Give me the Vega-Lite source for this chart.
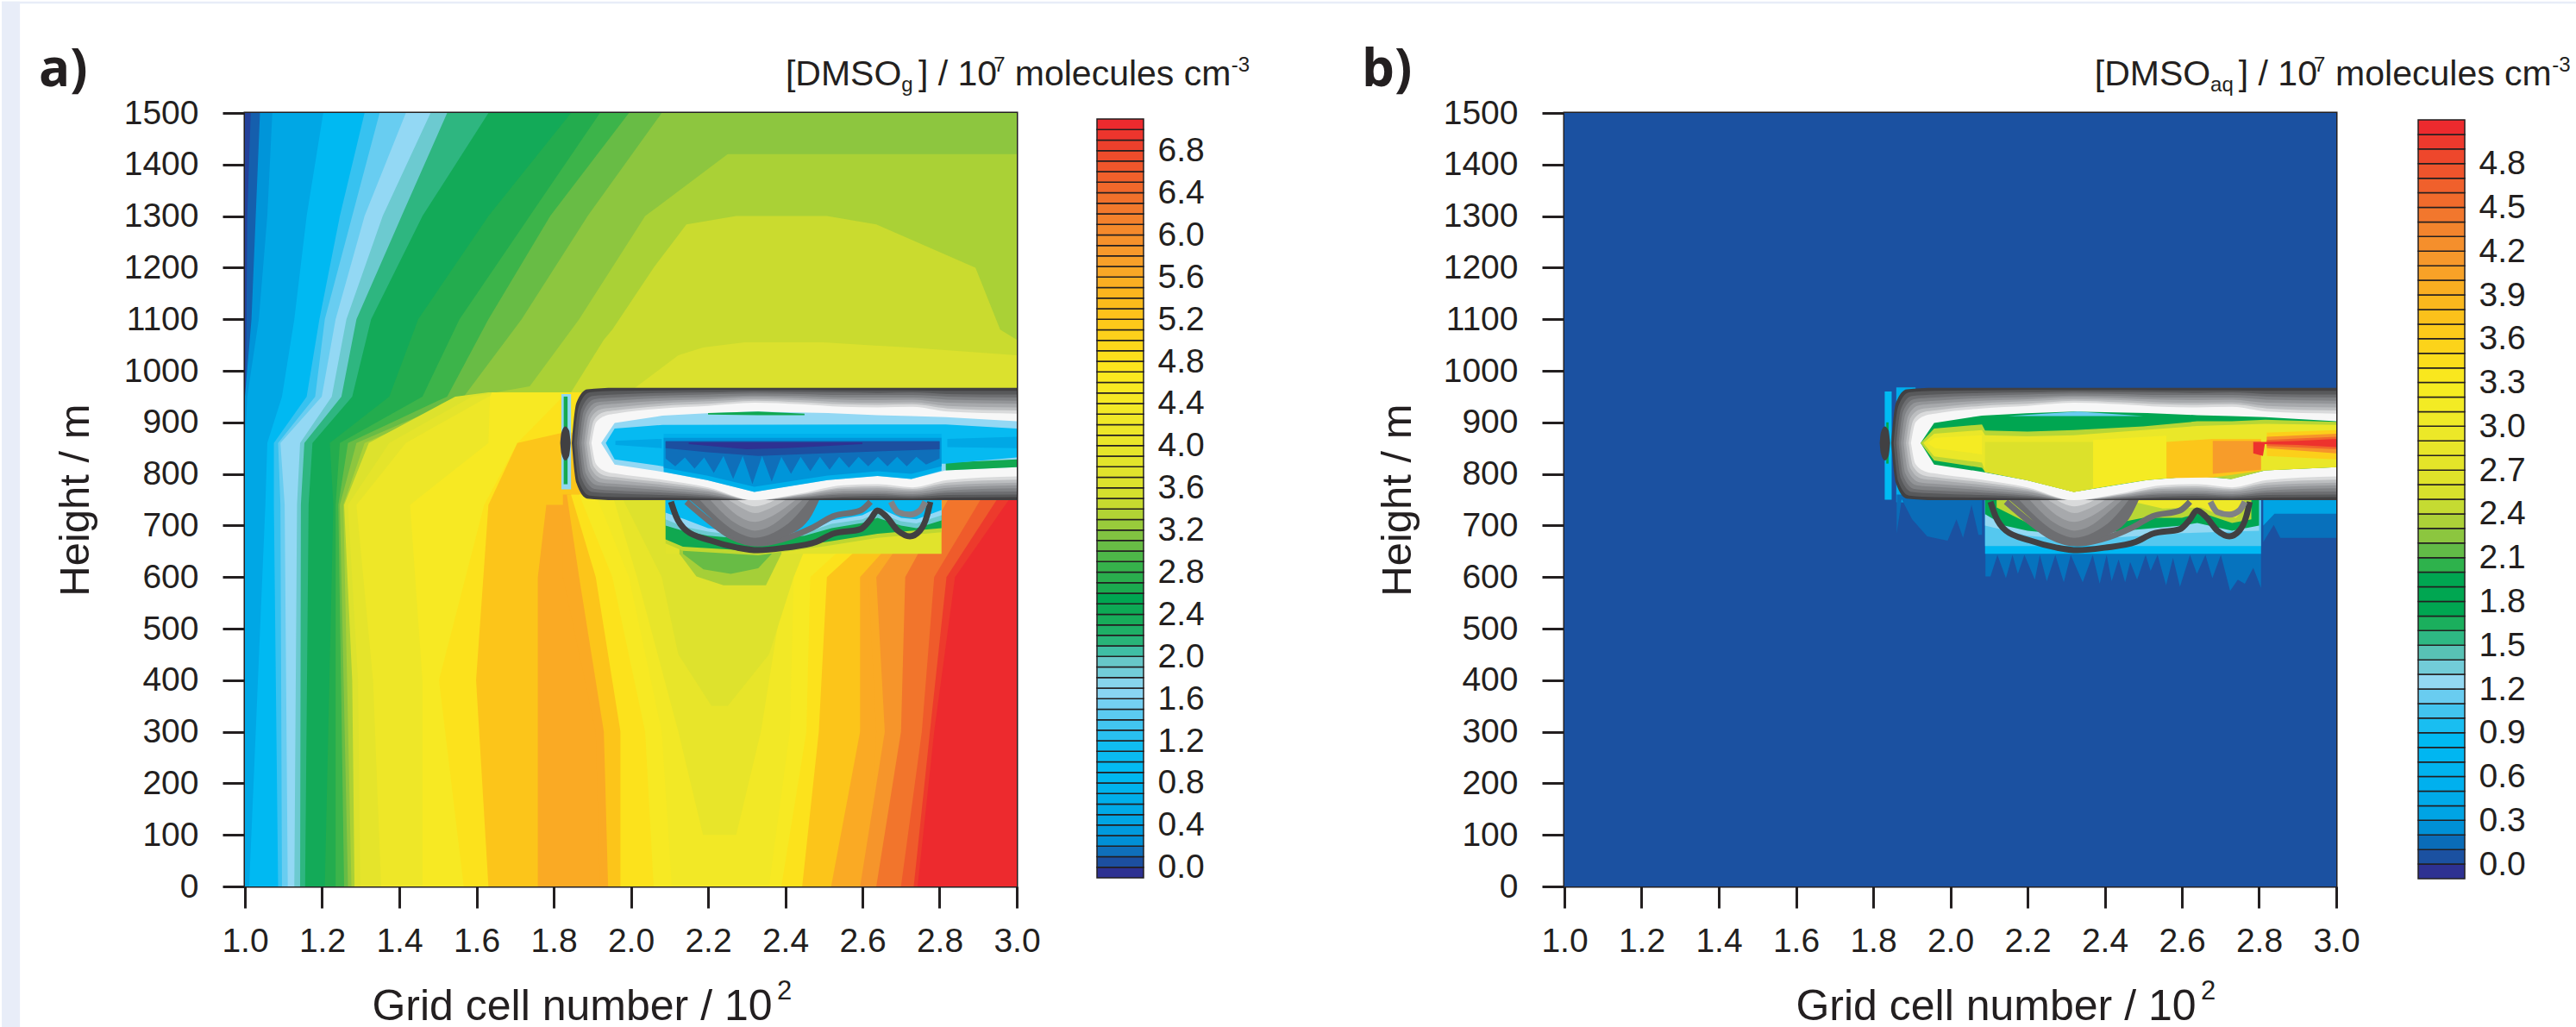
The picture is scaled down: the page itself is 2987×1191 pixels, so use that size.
{"$schema":"https://vega.github.io/schema/vega-lite/v6.json","padding":0,"background":"#ffffff","bounds":"flush","spacing":93,
"resolve":{"scale":{"color":"independent"}},
"config":{"font":"Liberation Sans","view":{"stroke":null},"axis":{"grid":false,"labelFont":"Liberation Sans","titleFont":"Liberation Sans","labelColor":"#231f20","titleColor":"#231f20","tickColor":"#231f20","domainColor":"#231f20","labelOverlap":false,"labelFlush":false}},
"datasets":{
"page":[{"x":0.37,"x2":0.417,"y":-276,"y2":1716},{"x":0.37,"x2":7.04,"y":1712,"y2":1716}],
"minor":[{"x":1.05},{"x":1.1},{"x":1.15},{"x":1.25},{"x":1.3},{"x":1.35},{"x":1.45},{"x":1.5},{"x":1.55},{"x":1.65},{"x":1.7},{"x":1.75},{"x":1.85},{"x":1.9},{"x":1.95},{"x":2.05},{"x":2.1},{"x":2.15},{"x":2.25},{"x":2.3},{"x":2.35},{"x":2.45},{"x":2.5},{"x":2.55},{"x":2.65},{"x":2.7},{"x":2.75},{"x":2.85},{"x":2.9},{"x":2.95}],
"lines":[
{"l":0,"x":2.104,"y":746},{"l":0,"x":2.117,"y":718},{"l":0,"x":2.144,"y":690},{"l":0,"x":2.206,"y":671},{"l":0,"x":2.276,"y":657},{"l":0,"x":2.329,"y":652},{"l":0,"x":2.4,"y":657},{"l":0,"x":2.48,"y":668},{"l":0,"x":2.524,"y":684},{"l":0,"x":2.595,"y":693},{"l":0,"x":2.621,"y":712},{"l":0,"x":2.639,"y":729},{"l":0,"x":2.661,"y":718},{"l":0,"x":2.692,"y":690},{"l":0,"x":2.723,"y":679},{"l":0,"x":2.749,"y":690},{"l":0,"x":2.767,"y":718},{"l":0,"x":2.776,"y":746},
{"l":1,"x":2.144,"y":746},{"l":1,"x":2.206,"y":707},{"l":1,"x":2.259,"y":679},{"l":1,"x":2.329,"y":665},{"l":1,"x":2.391,"y":673},{"l":1,"x":2.471,"y":696},{"l":1,"x":2.524,"y":718},{"l":1,"x":2.595,"y":729},{"l":1,"x":2.621,"y":746},
{"l":2,"x":2.674,"y":746},{"l":2,"x":2.692,"y":726},{"l":2,"x":2.723,"y":721},{"l":2,"x":2.749,"y":729},{"l":2,"x":2.763,"y":746}],
"bulge":[
{"k":0,"x":1.817,"y":860,"y2":860},{"k":0,"x":1.82,"y":880,"y2":840},{"k":0,"x":1.83,"y":892,"y2":826},{"k":0,"x":1.84,"y":884,"y2":835},{"k":0,"x":1.844,"y":860,"y2":860},
{"k":2,"x":2.153,"y":752,"y2":749},{"k":2,"x":2.206,"y":752,"y2":715},{"k":2,"x":2.259,"y":752,"y2":679},{"k":2,"x":2.321,"y":752,"y2":662},{"k":2,"x":2.391,"y":752,"y2":676},{"k":2,"x":2.462,"y":752,"y2":712},{"k":2,"x":2.488,"y":752,"y2":749},
{"k":3,"x":2.179,"y":752,"y2":749},{"k":3,"x":2.24,"y":752,"y2":705},{"k":3,"x":2.28,"y":752,"y2":685},{"k":3,"x":2.321,"y":752,"y2":676},{"k":3,"x":2.37,"y":752,"y2":686},{"k":3,"x":2.42,"y":752,"y2":712},{"k":3,"x":2.462,"y":752,"y2":749},
{"k":4,"x":2.206,"y":752,"y2":749},{"k":4,"x":2.26,"y":752,"y2":710},{"k":4,"x":2.29,"y":752,"y2":697},{"k":4,"x":2.321,"y":752,"y2":690},{"k":4,"x":2.36,"y":752,"y2":698},{"k":4,"x":2.4,"y":752,"y2":720},{"k":4,"x":2.444,"y":752,"y2":749},
{"k":5,"x":2.232,"y":752,"y2":749},{"k":5,"x":2.275,"y":752,"y2":720},{"k":5,"x":2.321,"y":752,"y2":707},{"k":5,"x":2.37,"y":752,"y2":720},{"k":5,"x":2.426,"y":752,"y2":749},
{"k":6,"x":2.254,"y":752,"y2":749},{"k":6,"x":2.29,"y":752,"y2":733},{"k":6,"x":2.321,"y":752,"y2":724},{"k":6,"x":2.36,"y":752,"y2":733},{"k":6,"x":2.4,"y":752,"y2":749},
{"k":7,"x":2.276,"y":752,"y2":749},{"k":7,"x":2.321,"y":752,"y2":737},{"k":7,"x":2.373,"y":752,"y2":749}],
"cloud":[
{"k":0,"x":1.847,"y":860,"y2":860},{"k":0,"x":1.859,"y":938,"y2":782},{"k":0,"x":1.887,"y":964,"y2":752},{"k":0,"x":1.96,"y":967,"y2":749},{"k":0,"x":3,"y":967,"y2":749},
{"k":1,"x":1.853,"y":860,"y2":860},{"k":1,"x":1.865,"y":931,"y2":786},{"k":1,"x":1.893,"y":958,"y2":758},{"k":1,"x":1.96,"y":961,"y2":755},{"k":1,"x":2.08,"y":962,"y2":754},{"k":1,"x":2.2,"y":963,"y2":752},{"k":1,"x":2.32,"y":963,"y2":749},{"k":1,"x":2.44,"y":963,"y2":751},{"k":1,"x":2.55,"y":962,"y2":753},{"k":1,"x":2.64,"y":962,"y2":753},{"k":1,"x":2.73,"y":962,"y2":752},{"k":1,"x":2.82,"y":961,"y2":754},{"k":1,"x":3,"y":961,"y2":755},
{"k":2,"x":1.86,"y":860,"y2":860},{"k":2,"x":1.872,"y":926,"y2":791},{"k":2,"x":1.9,"y":951,"y2":765},{"k":2,"x":1.96,"y":954,"y2":762},{"k":2,"x":2.08,"y":957,"y2":759},{"k":2,"x":2.2,"y":958,"y2":755},{"k":2,"x":2.32,"y":960,"y2":749},{"k":2,"x":2.44,"y":959,"y2":752},{"k":2,"x":2.55,"y":958,"y2":756},{"k":2,"x":2.64,"y":957,"y2":757},{"k":2,"x":2.73,"y":958,"y2":755},{"k":2,"x":2.82,"y":955,"y2":759},{"k":2,"x":3,"y":954,"y2":760},
{"k":3,"x":1.866,"y":860,"y2":860},{"k":3,"x":1.878,"y":922,"y2":796},{"k":3,"x":1.906,"y":945,"y2":771},{"k":3,"x":1.96,"y":948,"y2":768},{"k":3,"x":2.08,"y":952,"y2":764},{"k":3,"x":2.2,"y":954,"y2":758},{"k":3,"x":2.32,"y":956,"y2":749},{"k":3,"x":2.44,"y":955,"y2":754},{"k":3,"x":2.55,"y":953,"y2":760},{"k":3,"x":2.64,"y":953,"y2":761},{"k":3,"x":2.73,"y":953,"y2":758},{"k":3,"x":2.82,"y":950,"y2":764},{"k":3,"x":3,"y":948,"y2":766},
{"k":4,"x":1.872,"y":860,"y2":860},{"k":4,"x":1.884,"y":917,"y2":800},{"k":4,"x":1.912,"y":939,"y2":778},{"k":4,"x":1.96,"y":942,"y2":775},{"k":4,"x":2.08,"y":947,"y2":769},{"k":4,"x":2.2,"y":949,"y2":761},{"k":4,"x":2.32,"y":952,"y2":749},{"k":4,"x":2.44,"y":951,"y2":755},{"k":4,"x":2.55,"y":948,"y2":763},{"k":4,"x":2.64,"y":948,"y2":764},{"k":4,"x":2.73,"y":948,"y2":761},{"k":4,"x":2.82,"y":944,"y2":768},{"k":4,"x":3,"y":942,"y2":772},
{"k":5,"x":1.879,"y":860,"y2":860},{"k":5,"x":1.891,"y":913,"y2":805},{"k":5,"x":1.919,"y":933,"y2":784},{"k":5,"x":1.96,"y":936,"y2":781},{"k":5,"x":2.08,"y":942,"y2":774},{"k":5,"x":2.2,"y":945,"y2":765},{"k":5,"x":2.32,"y":949,"y2":749},{"k":5,"x":2.44,"y":947,"y2":757},{"k":5,"x":2.55,"y":944,"y2":767},{"k":5,"x":2.64,"y":943,"y2":768},{"k":5,"x":2.73,"y":944,"y2":765},{"k":5,"x":2.82,"y":938,"y2":773},{"k":5,"x":3,"y":936,"y2":778},
{"k":6,"x":1.885,"y":860,"y2":860},{"k":6,"x":1.897,"y":909,"y2":810},{"k":6,"x":1.925,"y":926,"y2":791},{"k":6,"x":1.96,"y":929,"y2":788},{"k":6,"x":2.08,"y":937,"y2":779},{"k":6,"x":2.2,"y":941,"y2":768},{"k":6,"x":2.32,"y":945,"y2":749},{"k":6,"x":2.44,"y":943,"y2":759},{"k":6,"x":2.55,"y":939,"y2":771},{"k":6,"x":2.64,"y":938,"y2":772},{"k":6,"x":2.73,"y":939,"y2":768},{"k":6,"x":2.82,"y":932,"y2":778},{"k":6,"x":3,"y":929,"y2":783},
{"k":7,"x":1.892,"y":860,"y2":860},{"k":7,"x":1.904,"y":904,"y2":814},{"k":7,"x":1.932,"y":920,"y2":797},{"k":7,"x":1.96,"y":923,"y2":794},{"k":7,"x":2.08,"y":932,"y2":784},{"k":7,"x":2.2,"y":936,"y2":771},{"k":7,"x":2.32,"y":942,"y2":749},{"k":7,"x":2.44,"y":939,"y2":760},{"k":7,"x":2.55,"y":935,"y2":774},{"k":7,"x":2.64,"y":934,"y2":776},{"k":7,"x":2.73,"y":935,"y2":771},{"k":7,"x":2.82,"y":927,"y2":783},{"k":7,"x":3,"y":923,"y2":789},
{"k":8,"x":1.898,"y":860,"y2":860},{"k":8,"x":1.91,"y":900,"y2":819},{"k":8,"x":1.938,"y":914,"y2":804},{"k":8,"x":1.96,"y":917,"y2":801},{"k":8,"x":2.08,"y":927,"y2":789},{"k":8,"x":2.2,"y":932,"y2":774},{"k":8,"x":2.32,"y":938,"y2":749},{"k":8,"x":2.44,"y":935,"y2":762},{"k":8,"x":2.55,"y":930,"y2":778},{"k":8,"x":2.64,"y":929,"y2":780},{"k":8,"x":2.73,"y":930,"y2":774},{"k":8,"x":2.82,"y":921,"y2":788},{"k":8,"x":3,"y":917,"y2":795}],
"aL":[
{"v":0,"y":0,"x":1},{"v":0,"y":1500,"x":1},
{"v":0.1,"y":0,"x":1.002},{"v":0.1,"y":950,"x":1.002},{"v":0.1,"y":1100,"x":1.004},{"v":0.1,"y":1300,"x":1.006},{"v":0.1,"y":1500,"x":1.015},
{"v":0.3,"y":0,"x":1},{"v":0.3,"y":950,"x":1},{"v":0.3,"y":1100,"x":1.017},{"v":0.3,"y":1300,"x":1.028},{"v":0.3,"y":1500,"x":1.039},
{"v":0.5,"y":0,"x":1},{"v":0.5,"y":860,"x":1},{"v":0.5,"y":950,"x":1.006},{"v":0.5,"y":1100,"x":1.036},{"v":0.5,"y":1300,"x":1.058},{"v":0.5,"y":1500,"x":1.071},
{"v":0.9,"y":0,"x":1.011},{"v":0.9,"y":740,"x":1.053},{"v":0.9,"y":860,"x":1.058},{"v":0.9,"y":950,"x":1.096},{"v":0.9,"y":1100,"x":1.128},{"v":0.9,"y":1300,"x":1.16},{"v":0.9,"y":1500,"x":1.203},
{"v":1.3,"y":0,"x":1.086},{"v":1.3,"y":740,"x":1.075},{"v":1.3,"y":860,"x":1.075},{"v":1.3,"y":950,"x":1.16},{"v":1.3,"y":1100,"x":1.193},{"v":1.3,"y":1300,"x":1.246},{"v":1.3,"y":1500,"x":1.31},
{"v":1.5,"y":0,"x":1.096},{"v":1.5,"y":740,"x":1.092},{"v":1.5,"y":860,"x":1.086},{"v":1.5,"y":950,"x":1.182},{"v":1.5,"y":1100,"x":1.207},{"v":1.5,"y":1300,"x":1.278},{"v":1.5,"y":1500,"x":1.349},
{"v":1.7,"y":0,"x":1.111},{"v":1.7,"y":740,"x":1.103},{"v":1.7,"y":860,"x":1.092},{"v":1.7,"y":950,"x":1.199},{"v":1.7,"y":1100,"x":1.235},{"v":1.7,"y":1300,"x":1.31},{"v":1.7,"y":1500,"x":1.417},
{"v":1.9,"y":0,"x":1.128},{"v":1.9,"y":740,"x":1.135},{"v":1.9,"y":860,"x":1.143},{"v":1.9,"y":950,"x":1.225},{"v":1.9,"y":1100,"x":1.263},{"v":1.9,"y":1300,"x":1.357},{"v":1.9,"y":1500,"x":1.481},
{"v":2.1,"y":0,"x":1.143},{"v":2.1,"y":740,"x":1.145},{"v":2.1,"y":860,"x":1.154},{"v":2.1,"y":950,"x":1.25},{"v":2.1,"y":1100,"x":1.289},{"v":2.1,"y":1300,"x":1.406},{"v":2.1,"y":1500,"x":1.524},
{"v":2.4,"y":0,"x":1.156},{"v":2.4,"y":740,"x":1.165},{"v":2.4,"y":860,"x":1.175},{"v":2.4,"y":950,"x":1.278},{"v":2.4,"y":1100,"x":1.327},{"v":2.4,"y":1300,"x":1.46},{"v":2.4,"y":1500,"x":1.631},
{"v":2.7,"y":0,"x":1.207},{"v":2.7,"y":740,"x":1.229},{"v":2.7,"y":860,"x":1.22},{"v":2.7,"y":950,"x":1.374},{"v":2.7,"y":1100,"x":1.449},{"v":2.7,"y":1300,"x":1.631},{"v":2.7,"y":1500,"x":1.845},
{"v":2.9,"y":0,"x":1.235},{"v":2.9,"y":740,"x":1.235},{"v":2.9,"y":860,"x":1.246},{"v":2.9,"y":950,"x":1.46},{"v":2.9,"y":1100,"x":1.556},{"v":2.9,"y":1300,"x":1.738},{"v":2.9,"y":1500,"x":1.92},
{"v":3.05,"y":0,"x":1.257},{"v":3.05,"y":740,"x":1.242},{"v":3.05,"y":860,"x":1.267},{"v":3.05,"y":950,"x":1.524},{"v":3.05,"y":1100,"x":1.631},{"v":3.05,"y":1300,"x":1.791},{"v":3.05,"y":1500,"x":1.995},
{"v":3.2,"y":0,"x":1.267},{"v":3.2,"y":740,"x":1.246},{"v":3.2,"y":860,"x":1.289},{"v":3.2,"y":950,"x":1.567},{"v":3.2,"y":1100,"x":1.717},{"v":3.2,"y":1300,"x":1.888},{"v":3.2,"y":1500,"x":2.08},
{"v":3.32,"y":0,"x":1.276},{"v":3.32,"y":740,"x":1.255},{"v":3.32,"y":860,"x":1.31},{"v":3.32,"y":950,"x":1.588},{"v":3.32,"y":970,"x":1.738},{"v":3.32,"y":1100,"x":1.866},{"v":3.32,"y":1300,"x":2.037},{"v":3.32,"y":1420,"x":2.251}],
"aU":[
{"v":3.48,"y":958,"x":1.845,"x2":3},{"v":3.48,"y":1060,"x":1.93,"x2":3},{"v":3.48,"y":1080,"x":1.952,"x2":2.957},{"v":3.48,"y":1200,"x":2.059,"x2":2.893},{"v":3.48,"y":1284,"x":2.144,"x2":2.636},{"v":3.48,"y":1300,"x":2.273,"x2":2.508},
{"v":3.6,"y":958,"x":1.995,"x2":3},{"v":3.6,"y":1030,"x":2.123,"x2":3},{"v":3.6,"y":1045,"x":2.187,"x2":2.722},{"v":3.6,"y":1055,"x":2.294,"x2":2.5}],
"aM":[
{"v":3.65,"y":0,"x":1.284},{"v":3.65,"y":400,"x":1.278},{"v":3.65,"y":740,"x":1.257},{"v":3.65,"y":860,"x":1.321},{"v":3.65,"y":950,"x":1.545},{"v":3.65,"y":958,"x":1.631},
{"v":3.9,"y":0,"x":1.299},{"v":3.9,"y":400,"x":1.293},{"v":3.9,"y":740,"x":1.267},{"v":3.9,"y":860,"x":1.374},{"v":3.9,"y":950,"x":1.588},{"v":3.9,"y":958,"x":1.652},
{"v":4.2,"y":0,"x":1.353},{"v":4.2,"y":400,"x":1.332},{"v":4.2,"y":740,"x":1.289},{"v":4.2,"y":860,"x":1.417},{"v":4.2,"y":950,"x":1.631},{"v":4.2,"y":958,"x":1.695},
{"v":4.5,"y":0,"x":1.46},{"v":4.5,"y":400,"x":1.46},{"v":4.5,"y":740,"x":1.428},{"v":4.5,"y":860,"x":1.631},{"v":4.5,"y":950,"x":1.635},{"v":4.5,"y":958,"x":1.64},
{"v":4.8,"y":0,"x":1.567},{"v":4.8,"y":400,"x":1.503},{"v":4.8,"y":740,"x":1.62},{"v":4.8,"y":860,"x":1.706},{"v":4.8,"y":950,"x":1.824},{"v":4.8,"y":958,"x":1.845},
{"v":5.2,"y":0,"x":1.631},{"v":5.2,"y":400,"x":1.599},{"v":5.2,"y":740,"x":1.631},{"v":5.2,"y":860,"x":1.706},{"v":5.2,"y":880,"x":1.824},
{"v":5.6,"y":0,"x":1.759},{"v":5.6,"y":400,"x":1.759},{"v":5.6,"y":600,"x":1.759},{"v":5.6,"y":740,"x":1.781}],
"aV":[
{"v":5.61,"y":0,"x":1.92,"x2":2.615},{"v":5.61,"y":300,"x":1.909,"x2":2.636},{"v":5.61,"y":600,"x":1.824,"x2":2.615},{"v":5.61,"y":760,"x":1.824,"x2":2.807},
{"v":5.2,"y":0,"x":1.941,"x2":2.519},{"v":5.2,"y":300,"x":1.93,"x2":2.594},{"v":5.2,"y":600,"x":1.866,"x2":2.594},{"v":5.2,"y":760,"x":1.834,"x2":2.786},
{"v":4.8,"y":0,"x":1.973,"x2":2.444},{"v":4.8,"y":300,"x":1.973,"x2":2.487},{"v":4.8,"y":600,"x":1.909,"x2":2.508},{"v":4.8,"y":760,"x":1.845,"x2":2.743},
{"v":4.5,"y":0,"x":2.059,"x2":2.39},{"v":4.5,"y":300,"x":2.037,"x2":2.455},{"v":4.5,"y":600,"x":1.952,"x2":2.465},{"v":4.5,"y":760,"x":1.866,"x2":2.7},
{"v":4.3,"y":0,"x":2.106,"x2":2.358},{"v":4.3,"y":300,"x":2.08,"x2":2.412},{"v":4.3,"y":600,"x":1.995,"x2":2.422},{"v":4.3,"y":760,"x":1.909,"x2":2.508},
{"v":4.0,"y":100,"x":2.187,"x2":2.273},{"v":4.0,"y":300,"x":2.123,"x2":2.337},{"v":4.0,"y":600,"x":2.016,"x2":2.401},{"v":4.0,"y":760,"x":1.952,"x2":2.508},
{"v":3.7,"y":350,"x":2.209,"x2":2.251},{"v":3.7,"y":450,"x":2.123,"x2":2.358},{"v":3.7,"y":600,"x":2.08,"x2":2.422},{"v":3.7,"y":760,"x":1.973,"x2":2.508}],
"aR":[
{"v":5.9,"y":0,"x":2.594},{"v":5.9,"y":300,"x":2.658},{"v":5.9,"y":600,"x":2.636},{"v":5.9,"y":760,"x":2.786},
{"v":6.3,"y":0,"x":2.636},{"v":6.3,"y":300,"x":2.7},{"v":6.3,"y":600,"x":2.711},{"v":6.3,"y":760,"x":2.829},
{"v":6.6,"y":0,"x":2.7},{"v":6.6,"y":300,"x":2.754},{"v":6.6,"y":600,"x":2.786},{"v":6.6,"y":760,"x":2.914},
{"v":6.9,"y":0,"x":2.733},{"v":6.9,"y":300,"x":2.775},{"v":6.9,"y":600,"x":2.818},{"v":6.9,"y":760,"x":2.957},
{"v":7.05,"y":0,"x":2.743},{"v":7.05,"y":300,"x":2.786},{"v":7.05,"y":600,"x":2.84},{"v":7.05,"y":760,"x":2.989}],
"aP":[
{"v":3.8,"x":2.09,"y":760,"y2":645},{"v":3.8,"x":2.805,"y":760,"y2":645},
{"v":3.3,"x":2.126,"y":760,"y2":645},{"v":3.3,"x":2.17,"y":760,"y2":601},{"v":3.3,"x":2.24,"y":760,"y2":584},{"v":3.3,"x":2.35,"y":760,"y2":584},{"v":3.3,"x":2.39,"y":760,"y2":645},
{"v":3.05,"x":2.135,"y":760,"y2":645},{"v":3.05,"x":2.188,"y":760,"y2":615},{"v":3.05,"x":2.259,"y":760,"y2":606},{"v":3.05,"x":2.33,"y":760,"y2":617},{"v":3.05,"x":2.365,"y":760,"y2":645},
{"v":3.4,"x":2.09,"y":760,"y2":665},{"v":3.4,"x":2.135,"y":760,"y2":651},{"v":3.4,"x":2.33,"y":760,"y2":642},{"v":3.4,"x":2.506,"y":760,"y2":660},{"v":3.4,"x":2.639,"y":760,"y2":676},{"v":3.4,"x":2.805,"y":760,"y2":687},
{"v":2.6,"x":2.09,"y":760,"y2":673},{"v":2.6,"x":2.135,"y":760,"y2":659},{"v":2.6,"x":2.33,"y":760,"y2":650},{"v":2.6,"x":2.506,"y":760,"y2":668},{"v":2.6,"x":2.639,"y":760,"y2":684},{"v":2.6,"x":2.805,"y":760,"y2":695},
{"v":1.9,"x":2.09,"y":760,"y2":700},{"v":1.9,"x":2.135,"y":760,"y2":690},{"v":1.9,"x":2.2,"y":760,"y2":680},{"v":1.9,"x":2.33,"y":760,"y2":672},{"v":1.9,"x":2.45,"y":760,"y2":680},{"v":1.9,"x":2.52,"y":760,"y2":695},{"v":1.9,"x":2.6,"y":760,"y2":705},{"v":1.9,"x":2.639,"y":760,"y2":715},{"v":1.9,"x":2.7,"y":760,"y2":700},{"v":1.9,"x":2.74,"y":760,"y2":695},{"v":1.9,"x":2.805,"y":760,"y2":710},
{"v":1.7,"x":2.09,"y":760,"y2":712},{"v":1.7,"x":2.135,"y":760,"y2":698},{"v":1.7,"x":2.2,"y":760,"y2":688},{"v":1.7,"x":2.33,"y":760,"y2":676},{"v":1.7,"x":2.45,"y":760,"y2":685},{"v":1.7,"x":2.52,"y":760,"y2":703},{"v":1.7,"x":2.6,"y":760,"y2":712},{"v":1.7,"x":2.639,"y":760,"y2":725},{"v":1.7,"x":2.7,"y":760,"y2":708},{"v":1.7,"x":2.74,"y":760,"y2":704},{"v":1.7,"x":2.805,"y":760,"y2":720},
{"v":1.0,"x":2.09,"y":760,"y2":725},{"v":1.0,"x":2.14,"y":760,"y2":712},{"v":1.0,"x":2.2,"y":760,"y2":695},{"v":1.0,"x":2.33,"y":760,"y2":680},{"v":1.0,"x":2.47,"y":760,"y2":690},{"v":1.0,"x":2.52,"y":760,"y2":710},{"v":1.0,"x":2.6,"y":760,"y2":720},{"v":1.0,"x":2.64,"y":760,"y2":735},{"v":1.0,"x":2.7,"y":760,"y2":715},{"v":1.0,"x":2.74,"y":760,"y2":712},{"v":1.0,"x":2.805,"y":760,"y2":730},
{"v":1.71,"x":1.82,"y":955,"y2":770},{"v":1.71,"x":1.845,"y":955,"y2":770},
{"v":2.62,"x":1.826,"y":950,"y2":780},{"v":2.62,"x":1.836,"y":950,"y2":780}],
"aI":[
{"v":1.7,"x":1.923,"y":860,"y2":860},{"v":1.7,"x":1.958,"y":899,"y2":818},{"v":1.7,"x":2.082,"y":913,"y2":804},{"v":1.7,"x":2.197,"y":917.5,"y2":788},{"v":1.7,"x":2.32,"y":921,"y2":765},{"v":1.7,"x":2.51,"y":918,"y2":788},{"v":1.7,"x":2.639,"y":914,"y2":796},{"v":1.7,"x":2.727,"y":912,"y2":790},{"v":1.7,"x":2.816,"y":910,"y2":807},{"v":1.7,"x":3,"y":902,"y2":813},
{"v":2.6,"x":2.2,"y":918,"y2":915},{"v":2.6,"x":2.33,"y":921,"y2":914},{"v":2.6,"x":2.45,"y":917,"y2":914},
{"v":2.61,"x":2.816,"y":822,"y2":807},{"v":2.61,"x":3,"y":828,"y2":813},
{"v":1.0,"x":1.935,"y":860,"y2":860},{"v":1.0,"x":1.958,"y":888,"y2":828},{"v":1.0,"x":2.082,"y":895,"y2":815},{"v":1.0,"x":2.816,"y":896,"y2":820},{"v":1.0,"x":3,"y":888,"y2":832},
{"v":0.7,"x":2.085,"y":878,"y2":804},{"v":0.7,"x":2.197,"y":878,"y2":788},{"v":0.7,"x":2.32,"y":878,"y2":765},{"v":0.7,"x":2.51,"y":878,"y2":788},{"v":0.7,"x":2.639,"y":878,"y2":796},{"v":0.7,"x":2.727,"y":878,"y2":790},{"v":0.7,"x":2.805,"y":878,"y2":806},
{"v":0.5,"x":1.96,"y":864,"y2":856},{"v":0.5,"x":2.08,"y":868,"y2":850},
{"v":0.51,"x":2.82,"y":868,"y2":852},{"v":0.51,"x":3,"y":872,"y2":850},
{"v":0.3,"x":2.085,"y":870,"y2":812},{"v":0.3,"x":2.197,"y":870,"y2":797},{"v":0.3,"x":2.32,"y":870,"y2":775},{"v":0.3,"x":2.51,"y":870,"y2":797},{"v":0.3,"x":2.639,"y":870,"y2":805},{"v":0.3,"x":2.727,"y":870,"y2":800},{"v":0.3,"x":2.805,"y":870,"y2":815},
{"v":0.15,"x":2.09,"y":864,"y2":830},{"v":0.15,"x":2.115,"y":864,"y2":815},{"v":0.15,"x":2.14,"y":864,"y2":832},{"v":0.15,"x":2.165,"y":864,"y2":810},{"v":0.15,"x":2.19,"y":864,"y2":832},{"v":0.15,"x":2.215,"y":864,"y2":802},{"v":0.15,"x":2.24,"y":864,"y2":835},{"v":0.15,"x":2.265,"y":864,"y2":790},{"v":0.15,"x":2.29,"y":864,"y2":835},{"v":0.15,"x":2.315,"y":864,"y2":780},{"v":0.15,"x":2.34,"y":864,"y2":835},{"v":0.15,"x":2.365,"y":864,"y2":785},{"v":0.15,"x":2.39,"y":864,"y2":833},{"v":0.15,"x":2.415,"y":864,"y2":800},{"v":0.15,"x":2.44,"y":864,"y2":833},{"v":0.15,"x":2.465,"y":864,"y2":805},{"v":0.15,"x":2.49,"y":864,"y2":833},{"v":0.15,"x":2.515,"y":864,"y2":808},{"v":0.15,"x":2.54,"y":864,"y2":833},{"v":0.15,"x":2.565,"y":864,"y2":812},{"v":0.15,"x":2.59,"y":864,"y2":833},{"v":0.15,"x":2.615,"y":864,"y2":815},{"v":0.15,"x":2.64,"y":864,"y2":833},{"v":0.15,"x":2.665,"y":864,"y2":815},{"v":0.15,"x":2.69,"y":864,"y2":833},{"v":0.15,"x":2.715,"y":864,"y2":815},{"v":0.15,"x":2.74,"y":864,"y2":833},{"v":0.15,"x":2.765,"y":864,"y2":818},{"v":0.15,"x":2.8,"y":864,"y2":830},
{"v":0.05,"x":2.09,"y":863,"y2":850},{"v":0.05,"x":2.2,"y":863,"y2":842},{"v":0.05,"x":2.33,"y":863,"y2":835},{"v":0.05,"x":2.5,"y":863,"y2":840},{"v":0.05,"x":2.8,"y":863,"y2":848},
{"v":-0.05,"x":2.15,"y":861,"y2":858},{"v":-0.05,"x":2.3,"y":861,"y2":848},{"v":-0.05,"x":2.4,"y":861,"y2":850},{"v":-0.05,"x":2.6,"y":861,"y2":858}],
"bP":[
{"v":0.05,"x":1,"y":1500,"y2":0},{"v":0.05,"x":3,"y":1500,"y2":0},
{"v":0.5,"x":1.86,"y":968,"y2":745},{"v":0.5,"x":1.91,"y":968,"y2":745},
{"v":0.15,"x":1.861,"y":760,"y2":684.5},{"v":0.15,"x":1.874,"y":760,"y2":751},{"v":0.15,"x":1.901,"y":760,"y2":712},{"v":0.15,"x":1.94,"y":760,"y2":679},{"v":0.15,"x":1.993,"y":760,"y2":670.5},{"v":0.15,"x":2.016,"y":760,"y2":712},{"v":0.15,"x":2.033,"y":760,"y2":676},{"v":0.15,"x":2.055,"y":760,"y2":740},{"v":0.15,"x":2.073,"y":760,"y2":682},{"v":0.15,"x":2.082,"y":760,"y2":682},
{"v":0.16,"x":2.811,"y":760,"y2":668},{"v":0.16,"x":2.838,"y":760,"y2":701},{"v":0.16,"x":2.855,"y":760,"y2":676},{"v":0.16,"x":3,"y":760,"y2":676},
{"v":0.35,"x":2.811,"y":760,"y2":700},{"v":0.35,"x":2.84,"y":760,"y2":723},{"v":0.35,"x":3,"y":760,"y2":723},
{"v":0.17,"x":2.091,"y":760,"y2":601},{"v":0.17,"x":2.104,"y":760,"y2":601},{"v":0.17,"x":2.122,"y":760,"y2":643},{"v":0.17,"x":2.144,"y":760,"y2":598},{"v":0.17,"x":2.161,"y":760,"y2":643},{"v":0.17,"x":2.175,"y":760,"y2":606},{"v":0.17,"x":2.192,"y":760,"y2":643},{"v":0.17,"x":2.219,"y":760,"y2":595},{"v":0.17,"x":2.232,"y":760,"y2":643},{"v":0.17,"x":2.25,"y":760,"y2":592},{"v":0.17,"x":2.272,"y":760,"y2":643},{"v":0.17,"x":2.294,"y":760,"y2":590},{"v":0.17,"x":2.312,"y":760,"y2":643},{"v":0.17,"x":2.343,"y":760,"y2":590},{"v":0.17,"x":2.369,"y":760,"y2":643},{"v":0.17,"x":2.387,"y":760,"y2":587},{"v":0.17,"x":2.405,"y":760,"y2":643},{"v":0.17,"x":2.418,"y":760,"y2":592},{"v":0.17,"x":2.436,"y":760,"y2":634},{"v":0.17,"x":2.453,"y":760,"y2":590},{"v":0.17,"x":2.466,"y":760,"y2":629},{"v":0.17,"x":2.484,"y":760,"y2":595},{"v":0.17,"x":2.506,"y":760,"y2":643},{"v":0.17,"x":2.519,"y":760,"y2":612},{"v":0.17,"x":2.537,"y":760,"y2":643},{"v":0.17,"x":2.559,"y":760,"y2":584},{"v":0.17,"x":2.577,"y":760,"y2":637},{"v":0.17,"x":2.595,"y":760,"y2":581},{"v":0.17,"x":2.621,"y":760,"y2":643},{"v":0.17,"x":2.639,"y":760,"y2":606},{"v":0.17,"x":2.661,"y":760,"y2":643},{"v":0.17,"x":2.679,"y":760,"y2":598},{"v":0.17,"x":2.701,"y":760,"y2":643},{"v":0.17,"x":2.725,"y":760,"y2":573},{"v":0.17,"x":2.745,"y":760,"y2":595},{"v":0.17,"x":2.763,"y":760,"y2":587},{"v":0.17,"x":2.785,"y":760,"y2":618},{"v":0.17,"x":2.805,"y":760,"y2":579},
{"v":0.8,"x":2.09,"y":760,"y2":645},{"v":0.8,"x":2.805,"y":760,"y2":645},
{"v":1.1,"x":2.09,"y":760,"y2":660},{"v":1.1,"x":2.805,"y":760,"y2":660},
{"v":1.25,"x":2.09,"y":760,"y2":700},{"v":1.25,"x":2.2,"y":760,"y2":680},{"v":1.25,"x":2.33,"y":760,"y2":672},{"v":1.25,"x":2.6,"y":760,"y2":685},{"v":1.25,"x":2.8,"y":760,"y2":690},
{"v":1.8,"x":2.09,"y":760,"y2":722},{"v":1.8,"x":2.14,"y":760,"y2":700},{"v":1.8,"x":2.2,"y":760,"y2":690},{"v":1.8,"x":2.33,"y":760,"y2":680},{"v":1.8,"x":2.45,"y":760,"y2":690},{"v":1.8,"x":2.6,"y":760,"y2":700},{"v":1.8,"x":2.64,"y":760,"y2":705},{"v":1.8,"x":2.73,"y":760,"y2":690},{"v":1.8,"x":2.8,"y":760,"y2":700},
{"v":2.4,"x":2.12,"y":760,"y2":735},{"v":2.4,"x":2.2,"y":760,"y2":705},{"v":2.4,"x":2.33,"y":760,"y2":690},{"v":2.4,"x":2.5,"y":760,"y2":715},{"v":2.4,"x":2.6,"y":760,"y2":715},{"v":2.4,"x":2.65,"y":760,"y2":725},{"v":2.4,"x":2.73,"y":760,"y2":705},{"v":2.4,"x":2.78,"y":760,"y2":712},
{"v":3.0,"x":2.48,"y":760,"y2":745},{"v":3.0,"x":2.55,"y":760,"y2":733},{"v":3.0,"x":2.65,"y":760,"y2":735},{"v":3.0,"x":2.7,"y":760,"y2":720},{"v":3.0,"x":2.74,"y":760,"y2":715},{"v":3.0,"x":2.76,"y":760,"y2":730},
{"v":0.9,"x":1.83,"y":960,"y2":750},{"v":0.9,"x":1.848,"y":960,"y2":750},
{"v":1.81,"x":1.834,"y":900,"y2":820},{"v":1.81,"x":1.84,"y":900,"y2":820}],
"bI":[
{"v":1.8,"x":1.923,"y":860,"y2":860},{"v":1.8,"x":1.958,"y":899,"y2":818},{"v":1.8,"x":2.082,"y":913,"y2":804},{"v":1.8,"x":2.197,"y":917.5,"y2":788},{"v":1.8,"x":2.32,"y":921,"y2":765},{"v":1.8,"x":2.51,"y":918,"y2":788},{"v":1.8,"x":2.639,"y":914,"y2":796},{"v":1.8,"x":2.727,"y":912,"y2":790},{"v":1.8,"x":2.816,"y":910,"y2":807},{"v":1.8,"x":3,"y":902,"y2":813},
{"v":1.15,"x":2.15,"y":912,"y2":912},{"v":1.15,"x":2.33,"y":921,"y2":912},{"v":1.15,"x":2.5,"y":912,"y2":912},
{"v":2.4,"x":1.923,"y":860,"y2":860},{"v":2.4,"x":1.958,"y":888,"y2":826},{"v":2.4,"x":2.082,"y":896,"y2":812},{"v":2.4,"x":2.09,"y":884,"y2":804},{"v":2.4,"x":2.2,"y":882,"y2":788},{"v":2.4,"x":2.32,"y":885,"y2":765},{"v":2.4,"x":2.5,"y":892,"y2":788},{"v":2.4,"x":2.64,"y":902,"y2":796},{"v":2.4,"x":2.73,"y":902,"y2":790},{"v":2.4,"x":2.816,"y":905,"y2":807},{"v":2.4,"x":3,"y":901,"y2":813},
{"v":2.9,"x":1.93,"y":860,"y2":860},{"v":2.9,"x":1.958,"y":878,"y2":834},{"v":2.9,"x":2.082,"y":885,"y2":822},{"v":2.9,"x":2.09,"y":875,"y2":804},{"v":2.9,"x":2.2,"y":873,"y2":788},{"v":2.9,"x":2.32,"y":875,"y2":765},{"v":2.9,"x":2.5,"y":885,"y2":788},{"v":2.9,"x":2.64,"y":893,"y2":796},{"v":2.9,"x":2.816,"y":897,"y2":807},{"v":2.9,"x":3,"y":895,"y2":813},
{"v":3.2,"x":1.94,"y":860,"y2":860},{"v":3.2,"x":1.96,"y":870,"y2":850},{"v":3.2,"x":2.082,"y":875,"y2":838},
{"v":2.6,"x":2.09,"y":862,"y2":804},{"v":2.6,"x":2.197,"y":862,"y2":788},{"v":2.6,"x":2.32,"y":862,"y2":765},{"v":2.6,"x":2.37,"y":862,"y2":772},
{"v":3.21,"x":2.37,"y":866,"y2":772},{"v":3.21,"x":2.51,"y":872,"y2":788},{"v":3.21,"x":2.56,"y":874,"y2":792},
{"v":3.7,"x":2.56,"y":862,"y2":792},{"v":3.7,"x":2.68,"y":868,"y2":793},{"v":3.7,"x":2.805,"y":868,"y2":806},
{"v":4.1,"x":2.68,"y":864,"y2":800},{"v":4.1,"x":2.805,"y":864,"y2":808},
{"v":3.6,"x":2.82,"y":880,"y2":835},{"v":3.6,"x":3,"y":885,"y2":828},
{"v":4.2,"x":2.82,"y":872,"y2":850},{"v":4.2,"x":3,"y":878,"y2":840},
{"v":4.6,"x":2.82,"y":866,"y2":854},{"v":4.6,"x":3,"y":872,"y2":848},
{"v":5.0,"x":2.785,"y":862,"y2":840},{"v":5.0,"x":2.81,"y":862,"y2":835},{"v":5.0,"x":2.815,"y":862,"y2":858},{"v":5.0,"x":2.9,"y":864,"y2":856},{"v":5.0,"x":3,"y":868,"y2":852}],
"aText":[{"t":"[DMSO","x":2.401,"y":1554},{"t":"] / 10","x":2.745,"y":1554},{"t":"molecules cm","x":2.995,"y":1554}],
"aSmall":[{"t":"g","x":2.701,"y":1541},{"t":"7","x":2.94,"y":1581},{"t":"-3","x":3.556,"y":1581}],
"aSup":[{"t":"2","x":2.379,"y":-219}],
"aLabel":[{"t":"a)","x":0.466,"y":1552}],
"bText":[{"t":"[DMSO","x":2.374,"y":1554},{"t":"] / 10","x":2.747,"y":1554},{"t":"molecules cm","x":2.998,"y":1554}],
"bSmall":[{"t":"aq","x":2.674,"y":1541},{"t":"7","x":2.942,"y":1581},{"t":"-3","x":3.559,"y":1581}],
"bSup":[{"t":"2","x":2.649,"y":-219}],
"bLabel":[{"t":"b)","x":0.475,"y":1552}],
"barA":[{"v":-0.05,"y":-0.1,"y2":0},{"v":0.05,"y":0,"y2":0.1},{"v":0.15,"y":0.1,"y2":0.2},{"v":0.25,"y":0.2,"y2":0.3},{"v":0.35,"y":0.3,"y2":0.4},{"v":0.45,"y":0.4,"y2":0.5},{"v":0.55,"y":0.5,"y2":0.6},{"v":0.65,"y":0.6,"y2":0.7},{"v":0.75,"y":0.7,"y2":0.8},{"v":0.85,"y":0.8,"y2":0.9},{"v":0.95,"y":0.9,"y2":1.0},{"v":1.05,"y":1.0,"y2":1.1},{"v":1.15,"y":1.1,"y2":1.2},{"v":1.25,"y":1.2,"y2":1.3},{"v":1.35,"y":1.3,"y2":1.4},{"v":1.45,"y":1.4,"y2":1.5},{"v":1.55,"y":1.5,"y2":1.6},{"v":1.65,"y":1.6,"y2":1.7},{"v":1.75,"y":1.7,"y2":1.8},{"v":1.85,"y":1.8,"y2":1.9},{"v":1.95,"y":1.9,"y2":2.0},{"v":2.05,"y":2.0,"y2":2.1},{"v":2.15,"y":2.1,"y2":2.2},{"v":2.25,"y":2.2,"y2":2.3},{"v":2.35,"y":2.3,"y2":2.4},{"v":2.45,"y":2.4,"y2":2.5},{"v":2.55,"y":2.5,"y2":2.6},{"v":2.65,"y":2.6,"y2":2.7},{"v":2.75,"y":2.7,"y2":2.8},{"v":2.85,"y":2.8,"y2":2.9},{"v":2.95,"y":2.9,"y2":3.0},{"v":3.05,"y":3.0,"y2":3.1},{"v":3.15,"y":3.1,"y2":3.2},{"v":3.25,"y":3.2,"y2":3.3},{"v":3.35,"y":3.3,"y2":3.4},{"v":3.45,"y":3.4,"y2":3.5},{"v":3.55,"y":3.5,"y2":3.6},{"v":3.65,"y":3.6,"y2":3.7},{"v":3.75,"y":3.7,"y2":3.8},{"v":3.85,"y":3.8,"y2":3.9},{"v":3.95,"y":3.9,"y2":4.0},{"v":4.05,"y":4.0,"y2":4.1},{"v":4.15,"y":4.1,"y2":4.2},{"v":4.25,"y":4.2,"y2":4.3},{"v":4.35,"y":4.3,"y2":4.4},{"v":4.45,"y":4.4,"y2":4.5},{"v":4.55,"y":4.5,"y2":4.6},{"v":4.65,"y":4.6,"y2":4.7},{"v":4.75,"y":4.7,"y2":4.8},{"v":4.85,"y":4.8,"y2":4.9},{"v":4.95,"y":4.9,"y2":5.0},{"v":5.05,"y":5.0,"y2":5.1},{"v":5.15,"y":5.1,"y2":5.2},{"v":5.25,"y":5.2,"y2":5.3},{"v":5.35,"y":5.3,"y2":5.4},{"v":5.45,"y":5.4,"y2":5.5},{"v":5.55,"y":5.5,"y2":5.6},{"v":5.65,"y":5.6,"y2":5.7},{"v":5.75,"y":5.7,"y2":5.8},{"v":5.85,"y":5.8,"y2":5.9},{"v":5.95,"y":5.9,"y2":6.0},{"v":6.05,"y":6.0,"y2":6.1},{"v":6.15,"y":6.1,"y2":6.2},{"v":6.25,"y":6.2,"y2":6.3},{"v":6.35,"y":6.3,"y2":6.4},{"v":6.45,"y":6.4,"y2":6.5},{"v":6.55,"y":6.5,"y2":6.6},{"v":6.65,"y":6.6,"y2":6.7},{"v":6.75,"y":6.7,"y2":6.8},{"v":6.85,"y":6.8,"y2":6.9},{"v":6.95,"y":6.9,"y2":7.0},{"v":7.05,"y":7.0,"y2":7.1}],
"barB":[{"v":-0.05,"y":-0.1,"y2":0},{"v":0.05,"y":0,"y2":0.1},{"v":0.15,"y":0.1,"y2":0.2},{"v":0.25,"y":0.2,"y2":0.3},{"v":0.35,"y":0.3,"y2":0.4},{"v":0.45,"y":0.4,"y2":0.5},{"v":0.55,"y":0.5,"y2":0.6},{"v":0.65,"y":0.6,"y2":0.7},{"v":0.75,"y":0.7,"y2":0.8},{"v":0.85,"y":0.8,"y2":0.9},{"v":0.95,"y":0.9,"y2":1.0},{"v":1.05,"y":1.0,"y2":1.1},{"v":1.15,"y":1.1,"y2":1.2},{"v":1.25,"y":1.2,"y2":1.3},{"v":1.35,"y":1.3,"y2":1.4},{"v":1.45,"y":1.4,"y2":1.5},{"v":1.55,"y":1.5,"y2":1.6},{"v":1.65,"y":1.6,"y2":1.7},{"v":1.75,"y":1.7,"y2":1.8},{"v":1.85,"y":1.8,"y2":1.9},{"v":1.95,"y":1.9,"y2":2.0},{"v":2.05,"y":2.0,"y2":2.1},{"v":2.15,"y":2.1,"y2":2.2},{"v":2.25,"y":2.2,"y2":2.3},{"v":2.35,"y":2.3,"y2":2.4},{"v":2.45,"y":2.4,"y2":2.5},{"v":2.55,"y":2.5,"y2":2.6},{"v":2.65,"y":2.6,"y2":2.7},{"v":2.75,"y":2.7,"y2":2.8},{"v":2.85,"y":2.8,"y2":2.9},{"v":2.95,"y":2.9,"y2":3.0},{"v":3.05,"y":3.0,"y2":3.1},{"v":3.15,"y":3.1,"y2":3.2},{"v":3.25,"y":3.2,"y2":3.3},{"v":3.35,"y":3.3,"y2":3.4},{"v":3.45,"y":3.4,"y2":3.5},{"v":3.55,"y":3.5,"y2":3.6},{"v":3.65,"y":3.6,"y2":3.7},{"v":3.75,"y":3.7,"y2":3.8},{"v":3.85,"y":3.8,"y2":3.9},{"v":3.95,"y":3.9,"y2":4.0},{"v":4.05,"y":4.0,"y2":4.1},{"v":4.15,"y":4.1,"y2":4.2},{"v":4.25,"y":4.2,"y2":4.3},{"v":4.35,"y":4.3,"y2":4.4},{"v":4.45,"y":4.4,"y2":4.5},{"v":4.55,"y":4.5,"y2":4.6},{"v":4.65,"y":4.6,"y2":4.7},{"v":4.75,"y":4.7,"y2":4.8},{"v":4.85,"y":4.8,"y2":4.9},{"v":4.95,"y":4.9,"y2":5.0},{"v":5.05,"y":5.0,"y2":5.1}]
},
"hconcat":[
{"width":895,"height":897,"view":{"stroke":"#231f20","strokeWidth":3},
"encoding":{
"x":{"field":"x","type":"quantitative","stack":null,"scale":{"domain":[1,3],"nice":false,"zero":false},"axis":{"title":"Grid cell number / 10","values":[1,1.2,1.4,1.6,1.8,2,2.2,2.4,2.6,2.8,3],"format":".1f","domain":false,"tickSize":25,"tickWidth":3,"labelFontSize":39,"labelPadding":19,"titleFontSize":50,"titleFontWeight":"normal","titleX":379,"titleY":154,"titleBaseline":"alphabetic"}},
"y":{"field":"y","type":"quantitative","stack":null,"scale":{"domain":[0,1500],"nice":false,"zero":false},"axis":{"title":"Height / m","values":[0,100,200,300,400,500,600,700,800,900,1000,1100,1200,1300,1400,1500],"format":"d","domain":false,"tickSize":26,"tickWidth":3,"labelFontSize":39,"labelPadding":28,"titleFontSize":49,"titleFontWeight":"normal","titleX":-182,"titleBaseline":"alphabetic"}},
"color":{"field":"v","type":"quantitative","legend":null,"scale":{"domain":[-0.05,0.05,0.15,0.25,0.45,0.9,1.2,1.4,1.6,1.7,1.85,2.0,2.1,2.3,2.55,2.9,3.0,3.2,3.4,3.6,4.0,4.4,4.7,5.0,5.4,5.8,6.2,6.6,6.9,7.05],"range":["#2e3192","#1c4fa0","#0f6fba","#0090d6","#00a5e3","#00b9f2","#13bdf0","#4cc7f0","#7fd2f2","#93d8f4","#72cdd8","#62c4c0","#2eb680","#1bad5c","#00a651","#3cb44a","#5bb947","#8dc63f","#bfd730","#dbe12e","#e8e52a","#f5e925","#fbe91e","#fdd31b","#fbb81c","#f79d2b","#f37d2d","#ef5b2b","#ed3a2c","#ed2a2e"]}}},
"layer":[
{"data":{"name":"page"},"mark":{"type":"rect","fill":"#e8edf8"},"encoding":{"color":null,"x2":{"field":"x2"},"y2":{"field":"y2"}}},
{"data":{"name":"minor"},"mark":{"type":"rule","color":"#231f20","strokeWidth":3},"encoding":{"color":null,"y":{"datum":0,"type":"quantitative","scale":{"domain":[0,1500],"nice":false,"zero":false}},"y2":{"datum":-22}}},
{"data":{"name":"aL"},"mark":{"type":"area","orient":"horizontal"},"encoding":{"x2":{"datum":3},"detail":{"field":"v"}}},
{"data":{"name":"aU"},"mark":{"type":"area","orient":"horizontal"},"encoding":{"x2":{"field":"x2"},"detail":{"field":"v"}}},
{"data":{"name":"aM"},"mark":{"type":"area","orient":"horizontal"},"encoding":{"x2":{"datum":3},"detail":{"field":"v"}}},
{"data":{"name":"aV"},"mark":{"type":"area","orient":"horizontal"},"encoding":{"x2":{"field":"x2"},"detail":{"field":"v"}}},
{"data":{"name":"aR"},"mark":{"type":"area","orient":"horizontal"},"encoding":{"x2":{"datum":3},"detail":{"field":"v"}}},
{"data":{"name":"aP"},"mark":{"type":"area","orient":"vertical"},"encoding":{"y2":{"field":"y2"},"detail":{"field":"v"}}},
{"data":{"name":"lines"},"mark":{"type":"line","strokeWidth":7,"interpolate":"monotone"},"encoding":{"color":null,"stroke":{"field":"l","type":"ordinal","legend":null,"scale":{"domain":[0,1,2],"range":["#414042","#6d6e71","#808285"]}}}},
{"data":{"name":"bulge"},"mark":{"type":"area","orient":"vertical","interpolate":"monotone"},"encoding":{"color":null,"y2":{"field":"y2"},"detail":{"field":"k"},"fill":{"field":"k","type":"ordinal","legend":null,"scale":{"domain":[0,1,2,3,4,5,6,7,8],"range":["#414042","#58595b","#6d6e71","#808285","#939598","#a7a9ac","#bcbec0","#d9dadb","#f7f7f7"]}}}},
{"data":{"name":"cloud"},"mark":{"type":"area","orient":"vertical","interpolate":"monotone"},"encoding":{"color":null,"y2":{"field":"y2"},"detail":{"field":"k"},"fill":{"field":"k","type":"ordinal","legend":null,"scale":{"domain":[0,1,2,3,4,5,6,7,8],"range":["#414042","#58595b","#6d6e71","#808285","#939598","#a7a9ac","#bcbec0","#d9dadb","#f7f7f7"]}}}},
{"data":{"name":"aI"},"mark":{"type":"area","orient":"vertical"},"encoding":{"y2":{"field":"y2"},"detail":{"field":"v"}}},
{"data":{"name":"aText"},"mark":{"type":"text","align":"left","baseline":"alphabetic","fontSize":41,"fill":"#231f20"},"encoding":{"color":null,"text":{"field":"t"}}},
{"data":{"name":"aSmall"},"mark":{"type":"text","align":"left","baseline":"alphabetic","fontSize":24,"fill":"#231f20"},"encoding":{"color":null,"text":{"field":"t"}}},
{"data":{"name":"aSup"},"mark":{"type":"text","align":"left","baseline":"alphabetic","fontSize":31,"fill":"#231f20"},"encoding":{"color":null,"text":{"field":"t"}}},
{"data":{"name":"aLabel"},"mark":{"type":"text","align":"left","baseline":"alphabetic","fontSize":60,"font":"Open Sans","fontWeight":"bold","fill":"#231f20"},"encoding":{"color":null,"text":{"field":"t"}}}
]},
{"width":54,"height":897,"data":{"name":"barA"},"mark":{"type":"rect","stroke":"#231f20","strokeWidth":1.5},
"encoding":{"x":{"datum":0,"type":"quantitative","scale":{"domain":[0,54],"nice":false,"zero":false},"axis":null},"x2":{"datum":54},
"y":{"field":"y","type":"quantitative","scale":{"domain":[-0.182,7.157],"nice":false,"zero":false},"axis":{"orient":"right","title":null,"values":[0,0.4,0.8,1.2,1.6,2,2.4,2.8,3.2,3.6,4,4.4,4.8,5.2,5.6,6,6.4,6.8],"format":".1f","domain":false,"ticks":false,"labelFontSize":39,"labelPadding":16}},"y2":{"field":"y2"},
"color":{"field":"v","type":"quantitative","legend":null,"scale":{"domain":[-0.05,0.05,0.15,0.25,0.45,0.9,1.2,1.4,1.6,1.7,1.85,2.0,2.1,2.3,2.55,2.9,3.0,3.2,3.4,3.6,4.0,4.4,4.7,5.0,5.4,5.8,6.2,6.6,6.9,7.05],"range":["#2e3192","#1c4fa0","#0f6fba","#0090d6","#00a5e3","#00b9f2","#13bdf0","#4cc7f0","#7fd2f2","#93d8f4","#72cdd8","#62c4c0","#2eb680","#1bad5c","#00a651","#3cb44a","#5bb947","#8dc63f","#bfd730","#dbe12e","#e8e52a","#f5e925","#fbe91e","#fdd31b","#fbb81c","#f79d2b","#f37d2d","#ef5b2b","#ed3a2c","#ed2a2e"]}}}},
{"width":302,"height":897,"data":{"values":[]},"mark":{"type":"rule"},"encoding":{}},
{"width":895,"height":897,"view":{"stroke":"#231f20","strokeWidth":3},
"encoding":{
"x":{"field":"x","type":"quantitative","stack":null,"scale":{"domain":[1,3],"nice":false,"zero":false},"axis":{"title":"Grid cell number / 10","values":[1,1.2,1.4,1.6,1.8,2,2.2,2.4,2.6,2.8,3],"format":".1f","domain":false,"tickSize":25,"tickWidth":3,"labelFontSize":39,"labelPadding":19,"titleFontSize":50,"titleFontWeight":"normal","titleX":500,"titleY":154,"titleBaseline":"alphabetic"}},
"y":{"field":"y","type":"quantitative","stack":null,"scale":{"domain":[0,1500],"nice":false,"zero":false},"axis":{"title":"Height / m","values":[0,100,200,300,400,500,600,700,800,900,1000,1100,1200,1300,1400,1500],"format":"d","domain":false,"tickSize":26,"tickWidth":3,"labelFontSize":39,"labelPadding":28,"titleFontSize":49,"titleFontWeight":"normal","titleX":-179,"titleBaseline":"alphabetic"}},
"color":{"field":"v","type":"quantitative","legend":null,"scale":{"domain":[-0.05,0.05,0.15,0.25,0.35,0.55,0.9,1.0,1.1,1.2,1.25,1.35,1.45,1.55,1.65,1.75,1.95,2.05,2.15,2.25,2.35,2.45,2.55,2.65,3.0,3.3,3.5,3.7,3.9,4.1,4.3,4.5,4.7,4.9,5.05],"range":["#2e3192","#1b51a1","#0a6cb8","#0090d6","#00a4e4","#00b0ee","#00bbf3","#27c0f0","#55c8ef","#7bd0f0","#93d8f2","#72ccd8","#58c2b5","#2eb883","#1baf5d","#00a651","#00a651","#2eb24c","#62bb47","#8cc63f","#acd138","#c5db32","#d8e02c","#e0e22a","#eee928","#f8ec20","#fcd81b","#fcc61a","#f9b41e","#f79c2a","#f48a2d","#f1702d","#ef5a2c","#ee3f2c","#ed2a2e"]}}},
"layer":[
{"data":{"name":"minor"},"mark":{"type":"rule","color":"#231f20","strokeWidth":3},"encoding":{"color":null,"y":{"datum":0,"type":"quantitative","scale":{"domain":[0,1500],"nice":false,"zero":false}},"y2":{"datum":-22}}},
{"data":{"name":"bP"},"mark":{"type":"area","orient":"vertical"},"encoding":{"y2":{"field":"y2"},"detail":{"field":"v"}}},
{"data":{"name":"lines"},"mark":{"type":"line","strokeWidth":7,"interpolate":"monotone"},"encoding":{"color":null,"stroke":{"field":"l","type":"ordinal","legend":null,"scale":{"domain":[0,1,2],"range":["#414042","#6d6e71","#808285"]}}}},
{"data":{"name":"bulge"},"mark":{"type":"area","orient":"vertical","interpolate":"monotone"},"encoding":{"color":null,"y2":{"field":"y2"},"detail":{"field":"k"},"fill":{"field":"k","type":"ordinal","legend":null,"scale":{"domain":[0,1,2,3,4,5,6,7,8],"range":["#414042","#58595b","#6d6e71","#808285","#939598","#a7a9ac","#bcbec0","#d9dadb","#f7f7f7"]}}}},
{"data":{"name":"cloud"},"mark":{"type":"area","orient":"vertical","interpolate":"monotone"},"encoding":{"color":null,"y2":{"field":"y2"},"detail":{"field":"k"},"fill":{"field":"k","type":"ordinal","legend":null,"scale":{"domain":[0,1,2,3,4,5,6,7,8],"range":["#414042","#58595b","#6d6e71","#808285","#939598","#a7a9ac","#bcbec0","#d9dadb","#f7f7f7"]}}}},
{"data":{"name":"bI"},"mark":{"type":"area","orient":"vertical"},"encoding":{"y2":{"field":"y2"},"detail":{"field":"v"}}},
{"data":{"name":"bText"},"mark":{"type":"text","align":"left","baseline":"alphabetic","fontSize":41,"fill":"#231f20"},"encoding":{"color":null,"text":{"field":"t"}}},
{"data":{"name":"bSmall"},"mark":{"type":"text","align":"left","baseline":"alphabetic","fontSize":24,"fill":"#231f20"},"encoding":{"color":null,"text":{"field":"t"}}},
{"data":{"name":"bSup"},"mark":{"type":"text","align":"left","baseline":"alphabetic","fontSize":31,"fill":"#231f20"},"encoding":{"color":null,"text":{"field":"t"}}},
{"data":{"name":"bLabel"},"mark":{"type":"text","align":"left","baseline":"alphabetic","fontSize":60,"font":"Open Sans","fontWeight":"bold","fill":"#231f20"},"encoding":{"color":null,"text":{"field":"t"}}}
]},
{"width":56,"height":897,"data":{"name":"barB"},"mark":{"type":"rect","stroke":"#231f20","strokeWidth":1.5},
"encoding":{"x":{"datum":2,"type":"quantitative","scale":{"domain":[0,56],"nice":false,"zero":false},"axis":null},"x2":{"datum":56},
"y":{"field":"y","type":"quantitative","scale":{"domain":[-0.153,5.147],"nice":false,"zero":false},"axis":{"orient":"right","title":null,"values":[0,0.3,0.6,0.9,1.2,1.5,1.8,2.1,2.4,2.7,3,3.3,3.6,3.9,4.2,4.5,4.8],"format":".1f","domain":false,"ticks":false,"labelFontSize":39,"labelPadding":16}},"y2":{"field":"y2"},
"color":{"field":"v","type":"quantitative","legend":null,"scale":{"domain":[-0.05,0.05,0.15,0.25,0.35,0.55,0.9,1.0,1.1,1.2,1.25,1.35,1.45,1.55,1.65,1.75,1.95,2.05,2.15,2.25,2.35,2.45,2.55,2.65,3.0,3.3,3.5,3.7,3.9,4.1,4.3,4.5,4.7,4.9,5.05],"range":["#2e3192","#1b51a1","#0a6cb8","#0090d6","#00a4e4","#00b0ee","#00bbf3","#27c0f0","#55c8ef","#7bd0f0","#93d8f2","#72ccd8","#58c2b5","#2eb883","#1baf5d","#00a651","#00a651","#2eb24c","#62bb47","#8cc63f","#acd138","#c5db32","#d8e02c","#e0e22a","#eee928","#f8ec20","#fcd81b","#fcc61a","#f9b41e","#f79c2a","#f48a2d","#f1702d","#ef5a2c","#ee3f2c","#ed2a2e"]}}}}
]}
